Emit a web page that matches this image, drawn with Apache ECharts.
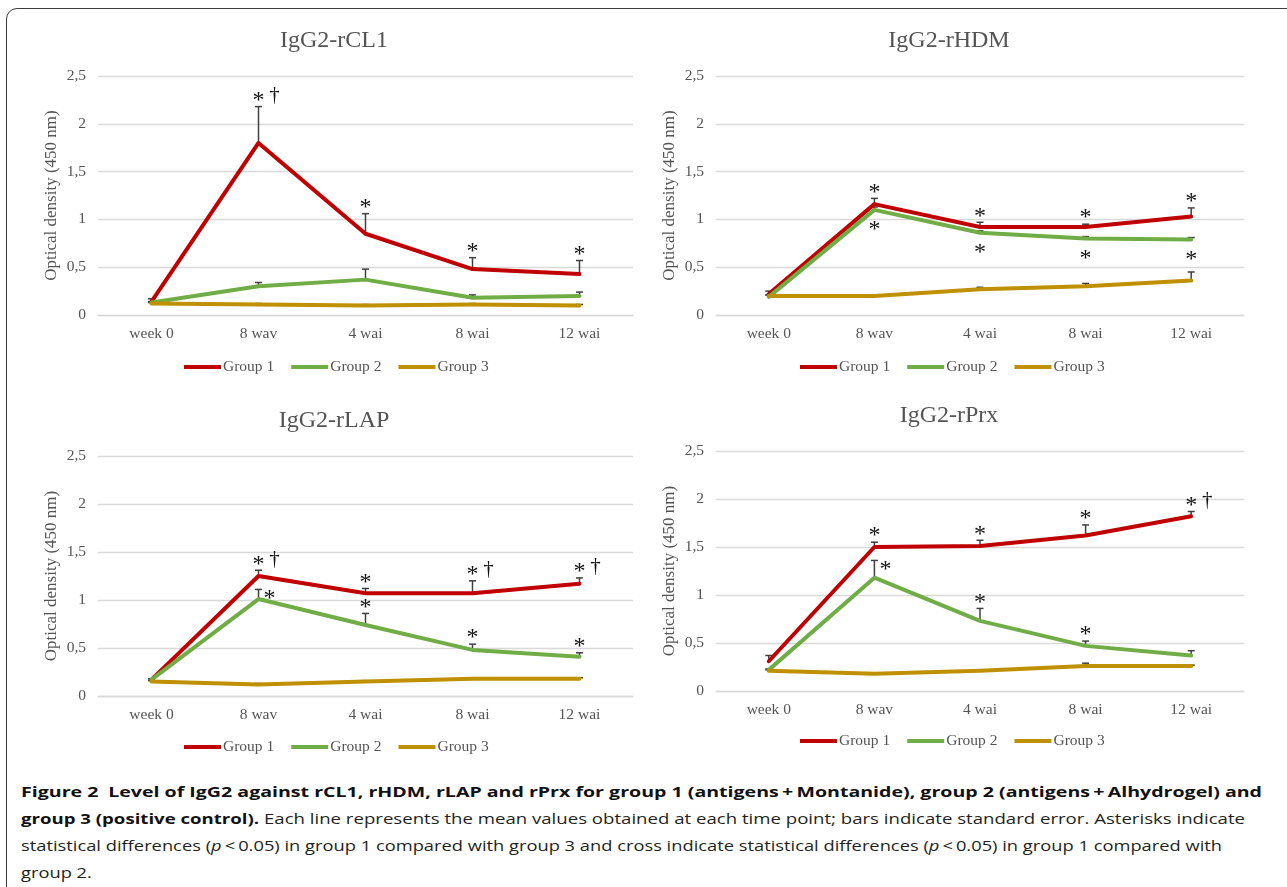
<!DOCTYPE html>
<html>
<head>
<meta charset="utf-8">
<script src="https://cdn.jsdelivr.net/npm/echarts@6.0.0/dist/echarts.min.js"></script>
<style>
  html, body { margin: 0; padding: 0; background: #fff; }
  body { width: 1287px; height: 887px; position: relative; overflow: hidden; }
  .frame {
    position: absolute; left: 6px; top: 8px; width: 1300px; height: 900px;
    border: 1.5px solid #3a3a3a; border-radius: 11px; box-sizing: border-box;
  }
  #chart { position: absolute; left: 0; top: 0; width: 1287px; height: 770px; }
  #caption {
    position: absolute; left: 21px; top: 778px;
    font-family: "Open Sans", "Noto Sans", sans-serif; font-size: 15px; line-height: 27px;
    color: #231f20;
  }
  #caption .ln { white-space: nowrap; width: max-content; transform-origin: 0 50%; }
  #caption b { font-weight: 700; color: #111; }
</style>
</head>
<body>
<div class="frame"></div>
<div id="chart"></div>
<div id="caption">
  <div class="ln" data-w="1241"><b>Figure 2&ensp;Level of IgG2 against rCL1, rHDM, rLAP and rPrx for group 1 (antigens&#8201;+&#8201;Montanide), group 2 (antigens&#8201;+&#8201;Alhydrogel) and</b></div>
  <div class="ln" data-w="1224"><b>group 3 (positive control).</b> Each line represents the mean values obtained at each time point; bars indicate standard error. Asterisks indicate</div>
  <div class="ln" data-w="1201">statistical differences (<i>p</i>&#8201;&lt;&#8201;0.05) in group 1 compared with group 3 and cross indicate statistical differences (<i>p</i>&#8201;&lt;&#8201;0.05) in group 1 compared with</div>
  <div class="ln">group 2.</div>
</div>
<script>
// 横轴时间点 / 分组
const categories = ['week 0', '8 wav', '4 wai', '8 wai', '12 wai']
const groupNames = ['Group 1', 'Group 2', 'Group 3']
const yAxisName = 'Optical density (450 nm)'

// IgG2-rCL1
const cl1Group1 = [0.14, 1.80, 0.85, 0.48, 0.43]
const cl1Group2 = [0.13, 0.30, 0.37, 0.18, 0.20]
const cl1Group3 = [0.12, 0.11, 0.10, 0.11, 0.10]
const cl1Se1 = [0.03, 0.38, 0.21, 0.12, 0.14]
const cl1Se2 = [0.01, 0.04, 0.11, 0.03, 0.04]
const cl1Se3 = [0.01, 0.01, 0.01, 0.01, 0.01]
const cl1Marks = [[1, 0, '*†', 'above'], [2, 0, '*', 'above'], [3, 0, '*', 'above'], [4, 0, '*', 'above']]

// IgG2-rHDM
const hdmGroup1 = [0.22, 1.16, 0.92, 0.92, 1.03]
const hdmGroup2 = [0.19, 1.10, 0.86, 0.80, 0.79]
const hdmGroup3 = [0.20, 0.20, 0.27, 0.30, 0.36]
const hdmSe1 = [0.03, 0.06, 0.05, 0.03, 0.09]
const hdmSe2 = [0.02, 0.03, 0.02, 0.02, 0.02]
const hdmSe3 = [0.01, 0.01, 0.02, 0.03, 0.09]
const hdmMarks = [
  [1, 0, '*', 'above'], [1, 1, '*', 'below'], [2, 0, '*', 'above'], [2, 1, '*', 'below'],
  [3, 0, '*', 'above'], [3, 1, '*', 'below'], [4, 0, '*', 'above'], [4, 1, '*', 'below'],
]

// IgG2-rLAP
const lapGroup1 = [0.17, 1.25, 1.07, 1.07, 1.17]
const lapGroup2 = [0.17, 1.01, 0.74, 0.48, 0.41]
const lapGroup3 = [0.15, 0.12, 0.15, 0.18, 0.18]
const lapSe1 = [0.01, 0.06, 0.05, 0.13, 0.06]
const lapSe2 = [0.01, 0.10, 0.12, 0.06, 0.04]
const lapSe3 = [0.01, 0.01, 0.01, 0.01, 0.01]
const lapMarks = [
  [1, 0, '*†', 'above'], [2, 0, '*', 'above'], [3, 0, '*†', 'above'], [4, 0, '*†', 'above'],
  [1, 1, '*', 'right'], [2, 1, '*', 'above'], [3, 1, '*', 'above'], [4, 1, '*', 'above'],
]

// IgG2-rPrx
const prxGroup1 = [0.31, 1.50, 1.51, 1.62, 1.82]
const prxGroup2 = [0.22, 1.18, 0.73, 0.47, 0.37]
const prxGroup3 = [0.21, 0.18, 0.21, 0.26, 0.26]
const prxSe1 = [0.06, 0.05, 0.06, 0.11, 0.05]
const prxSe2 = [0.01, 0.18, 0.13, 0.05, 0.05]
const prxSe3 = [0.01, 0.01, 0.01, 0.03, 0.01]
const prxMarks = [
  [1, 0, '*', 'above'], [1, 1, '*', 'right'], [2, 0, '*', 'above'], [2, 1, '*', 'above'],
  [3, 0, '*', 'above'], [3, 1, '*', 'above'], [4, 0, '*†', 'above'],
]

const SERIF = '"Liberation Serif", "Times New Roman", serif'
const TEXT = '#545454'
const lineColors = ['#c00000', '#70ad47', '#bf9000']

const panels = [
  {
    title: 'IgG2-rCL1', means: [cl1Group1, cl1Group2, cl1Group3], se: [cl1Se1, cl1Se2, cl1Se3], marks: cl1Marks,
    grid: { left: 98, top: 76, width: 535, height: 239 }, titleX: 334, titleY: 29, legendX: 184, legendY: 359,
  },
  {
    title: 'IgG2-rHDM', means: [hdmGroup1, hdmGroup2, hdmGroup3], se: [hdmSe1, hdmSe2, hdmSe3], marks: hdmMarks,
    grid: { left: 716, top: 76, width: 528, height: 239 }, titleX: 949, titleY: 29, legendX: 800, legendY: 359,
  },
  {
    title: 'IgG2-rLAP', means: [lapGroup1, lapGroup2, lapGroup3], se: [lapSe1, lapSe2, lapSe3], marks: lapMarks,
    grid: { left: 98, top: 456, width: 535, height: 240 }, titleX: 334, titleY: 409, legendX: 184, legendY: 739,
  },
  {
    title: 'IgG2-rPrx', means: [prxGroup1, prxGroup2, prxGroup3], se: [prxSe1, prxSe2, prxSe3], marks: prxMarks,
    grid: { left: 716, top: 451, width: 528, height: 240 }, titleX: 949, titleY: 404, legendX: 800, legendY: 733,
  },
]

function errorBarSeries(p, k) {
  const data = []
  p.means.forEach((vals, g) => {
    vals.forEach((v, i) => data.push([i, v, v + p.se[g][i]]))
  })
  return {
    type: 'custom', xAxisIndex: k, yAxisIndex: k, z: 2, silent: true,
    encode: { x: 0, y: 1 },
    data,
    renderItem(params, api) {
      const x = api.value(0)
      const lo = api.coord([x, api.value(1)])
      const hi = api.coord([x, api.value(2)])
      const style = { stroke: '#404040', lineWidth: 1.5 }
      return {
        type: 'group',
        children: [
          { type: 'line', shape: { x1: lo[0], y1: lo[1], x2: hi[0], y2: hi[1] }, style },
          { type: 'line', shape: { x1: hi[0] - 3.5, y1: hi[1], x2: hi[0] + 3.5, y2: hi[1] }, style },
        ],
      }
    },
  }
}

function markSeries(p, k) {
  const data = p.marks.map(m => {
    const mean = p.means[m[1]][m[0]]
    const top = mean + p.se[m[1]][m[0]]
    return [m[0], m[3] === 'below' ? mean : top]
  })
  return {
    type: 'custom', xAxisIndex: k, yAxisIndex: k, z: 5, silent: true,
    encode: { x: 0, y: 1 },
    data,
    renderItem(params, api) {
      const m = p.marks[params.dataIndex]
      const pt = api.coord([api.value(0), api.value(1)])
      let gx = pt[0]
      let gy = pt[1] - 10
      if (m[3] === 'below') gy = pt[1] + 16
      if (m[3] === 'right') { gx = pt[0] + 11; gy = pt[1] + 5 }
      const base = { fill: '#111', fontFamily: SERIF, align: 'center', verticalAlign: 'middle' }
      const children = [{ type: 'text', x: gx, y: gy + 4, style: Object.assign({ text: '*', fontSize: 24 }, base) }]
      if (m[2].indexOf('†') >= 0) {
        children.push({ type: 'text', x: gx + 16, y: gy - 1, style: Object.assign({ text: '†', fontSize: 21 }, base) })
      }
      return { type: 'group', children }
    },
  }
}

const chart = echarts.init(document.getElementById('chart'), null, { renderer: 'canvas' })

chart.setOption({
  animation: false,
  title: panels.map(p => ({
    text: p.title, left: p.titleX, top: p.titleY, textAlign: 'center', padding: 0,
    textStyle: { fontFamily: SERIF, fontSize: 24, fontWeight: 'normal', color: TEXT },
  })),
  legend: panels.map(p => ({
    data: groupNames, left: p.legendX, top: p.legendY, padding: 0, orient: 'horizontal',
    icon: 'rect', itemWidth: 37, itemHeight: 4, itemGap: 17, selectedMode: false,
    textStyle: { fontFamily: SERIF, fontSize: 15.5, color: TEXT, padding: [0, 0, 0, -3] },
  })),
  grid: panels.map(p => Object.assign({ outerBoundsMode: 'none', containLabel: false }, p.grid)),
  xAxis: panels.map((p, k) => ({
    type: 'category', gridIndex: k, data: categories, boundaryGap: true,
    axisLine: { show: true, lineStyle: { color: '#d9d9d9', width: 1.3 } },
    axisTick: { show: false },
    splitLine: { show: false },
    axisLabel: { interval: 0, margin: 11, fontFamily: SERIF, fontSize: 15.5, color: TEXT },
  })),
  yAxis: panels.map((p, k) => ({
    type: 'value', gridIndex: k, min: 0, max: 2.5, interval: 0.5,
    name: yAxisName, nameLocation: 'middle', nameGap: 38,
    nameTextStyle: { fontFamily: SERIF, fontSize: 17, color: TEXT },
    axisLine: { show: false }, axisTick: { show: false },
    splitLine: { lineStyle: { color: '#d9d9d9', width: 1.3 } },
    axisLabel: {
      margin: 12, fontFamily: SERIF, fontSize: 15.5, color: TEXT,
      formatter: v => String(v).replace('.', ','),
    },
  })),
  series: panels.flatMap((p, k) => [
    ...p.means.map((vals, g) => ({
      name: groupNames[g], type: 'line', xAxisIndex: k, yAxisIndex: k, z: 3,
      data: vals, symbol: 'none', showSymbol: false, smooth: false,
      color: lineColors[g],
      lineStyle: { color: lineColors[g], width: 4, cap: 'round', join: 'round' },
      itemStyle: { color: lineColors[g] },
    })),
    errorBarSeries(p, k),
    markSeries(p, k),
  ]),
})

// 图注字体较窄，逐行压缩到原图的行宽
const lines = document.querySelectorAll('#caption .ln')
let factor = 1
lines.forEach(el => {
  if (el.dataset.w) factor = Number(el.dataset.w) / el.getBoundingClientRect().width
  el.style.transform = `scaleX(${factor})`
})
</script>
</body>
</html>
